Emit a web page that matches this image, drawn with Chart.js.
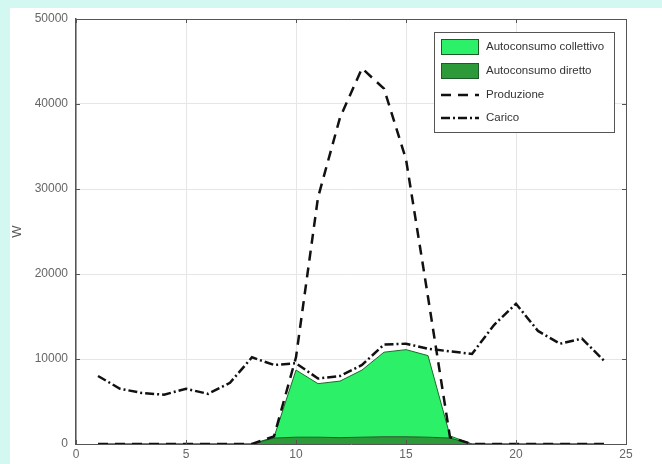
<!DOCTYPE html>
<html>
<head>
<meta charset="utf-8">
<script src="https://cdn.jsdelivr.net/npm/chart.js@4/dist/chart.umd.min.js"></script>
<style>
  html, body { margin: 0; padding: 0; }
  body { width: 662px; height: 464px; background: #d3f8f2; position: relative; overflow: hidden; }
  #c { position: absolute; left: 10px; top: 8px; background: #ffffff; }
</style>
</head>
<body>
<canvas id="c" width="652" height="456"></canvas>
<script>
// Hours of the day
const ore = [1, 2, 3, 4, 5, 6, 7, 8, 9, 10, 11, 12, 13, 14, 15, 16, 17, 18, 19, 20, 21, 22, 23, 24];

// Power profiles in W
const autoconsumoDiretto    = [0, 0, 0, 0, 0, 0, 0, 0, 700, 800, 800, 750, 800, 850, 850, 800, 700, 0, 0, 0, 0, 0, 0, 0];
const autoconsumoCollettivo = [0, 0, 0, 0, 0, 0, 0, 0, 100, 7900, 6300, 6650, 7900, 9950, 10250, 9600, 250, 0, 0, 0, 0, 0, 0, 0];
const produzione            = [0, 0, 0, 0, 0, 0, 0, 0, 900, 10200, 29000, 38400, 44200, 41800, 33500, 17300, 800, 0, 0, 0, 0, 0, 0, 0];
const carico                = [8000, 6500, 6000, 5800, 6500, 5900, 7200, 10200, 9300, 9500, 7700, 8000, 9300, 11700, 11800, 11200, 10900, 10600, 14000, 16500, 13300, 11800, 12400, 9800];

// Axis ticks
const xTicks = [0, 5, 10, 15, 20, 25];
const yTicks = [0, 10000, 20000, 30000, 40000, 50000];

const pts = arr => arr.map((v, i) => ({ x: ore[i], y: v }));

const FONT = "'Liberation Sans', Arial, sans-serif";

// Inner tick marks and the closing top/right frame
const frame = {
  id: 'frame',
  afterDraw(chart) {
    const { ctx, chartArea: a, scales: { x, y } } = chart;
    ctx.save();
    ctx.strokeStyle = '#555';
    ctx.lineWidth = 1;
    ctx.beginPath();
    ctx.moveTo(a.left, a.top + 0.5);
    ctx.lineTo(a.right + 0.5, a.top + 0.5);
    ctx.lineTo(a.right + 0.5, a.bottom);
    ctx.stroke();
    ctx.beginPath();
    xTicks.forEach(v => {
      const px = Math.round(x.getPixelForValue(v)) + 0.5;
      ctx.moveTo(px, a.bottom); ctx.lineTo(px, a.bottom - 4);
      ctx.moveTo(px, a.top); ctx.lineTo(px, a.top + 4);
    });
    yTicks.forEach(v => {
      const py = Math.round(y.getPixelForValue(v)) + 0.5;
      ctx.moveTo(a.left, py); ctx.lineTo(a.left + 4, py);
      ctx.moveTo(a.right, py); ctx.lineTo(a.right - 4, py);
    });
    ctx.stroke();
    ctx.restore();
  }
};

// Boxed legend inside the plot area
const boxLegend = {
  id: 'boxLegend',
  afterDraw(chart) {
    const { ctx } = chart;
    const ds = chart.data.datasets;
    const bx = 424, by = 24, bw = 180, bh = 100;
    ctx.save();
    ctx.fillStyle = '#ffffff';
    ctx.fillRect(bx, by, bw, bh);
    ctx.strokeStyle = '#555';
    ctx.lineWidth = 1;
    ctx.strokeRect(bx + 0.5, by + 0.5, bw, bh);
    const order = [1, 0, 2, 3];
    const rows = [39, 63, 87, 110];
    order.forEach((di, k) => {
      const d = ds[di];
      const cy = rows[k];
      if (d.fill) {
        ctx.fillStyle = d.backgroundColor;
        ctx.fillRect(431, cy - 8, 38, 16);
        ctx.strokeStyle = '#1e5a26';
        ctx.lineWidth = 1;
        ctx.strokeRect(431.5, cy - 7.5, 37, 15);
      } else {
        ctx.strokeStyle = d.borderColor;
        ctx.lineWidth = d.borderWidth;
        ctx.setLineDash(d.borderDash);
        ctx.beginPath();
        ctx.moveTo(431, cy); ctx.lineTo(469, cy);
        ctx.stroke();
        ctx.setLineDash([]);
      }
      ctx.fillStyle = '#333';
      ctx.font = '11.5px ' + FONT;
      ctx.textBaseline = 'middle';
      ctx.textAlign = 'left';
      ctx.fillText(d.label, 476, cy);
    });
    ctx.restore();
  }
};

new Chart(document.getElementById('c'), {
  type: 'line',
  data: {
    datasets: [
      {
        label: 'Autoconsumo diretto',
        data: pts(autoconsumoDiretto),
        stack: 'autoconsumo',
        fill: 'origin',
        backgroundColor: '#2c9a38',
        borderColor: '#1e5a26',
        borderWidth: 1,
        order: 2
      },
      {
        label: 'Autoconsumo collettivo',
        data: pts(autoconsumoCollettivo),
        stack: 'autoconsumo',
        fill: '-1',
        backgroundColor: '#2cf068',
        borderColor: '#1e6a2a',
        borderWidth: 1,
        order: 3
      },
      {
        label: 'Produzione',
        data: pts(produzione),
        stack: 'produzione',
        fill: false,
        borderColor: '#111',
        borderWidth: 2.5,
        borderDash: [10, 7],
        order: 1
      },
      {
        label: 'Carico',
        data: pts(carico),
        stack: 'carico',
        fill: false,
        borderColor: '#111',
        borderWidth: 2.5,
        borderDash: [9, 3, 2, 3],
        order: 0
      }
    ]
  },
  options: {
    responsive: false,
    animation: false,
    devicePixelRatio: 1,
    layout: { padding: { top: 11, right: 36, left: 0, bottom: 0 } },
    elements: { point: { radius: 0 }, line: { tension: 0 } },
    plugins: { legend: { display: false }, tooltip: { enabled: false } },
    scales: {
      x: {
        type: 'linear',
        min: 0, max: 25,
        afterBuildTicks: s => { s.ticks = xTicks.map(v => ({ value: v })); },
        ticks: { padding: 3, font: { family: FONT, size: 12 }, color: '#666', maxRotation: 0 },
        grid: { color: '#e6e6e6', drawTicks: false },
        border: { color: '#555', width: 1 },
        afterFit: s => { s.height = 20; }
      },
      y: {
        stacked: true,
        min: 0, max: 50000,
        afterBuildTicks: s => { s.ticks = yTicks.map(v => ({ value: v })); },
        ticks: { padding: 8, font: { family: FONT, size: 12, lineHeight: 0.4 }, color: '#666', callback: v => String(v) },
        grid: { color: '#e6e6e6', drawTicks: false },
        border: { color: '#555', width: 1.5 },
        title: { display: true, text: 'W', font: { family: FONT, size: 13 }, color: '#555', padding: 0 },
        afterFit: s => { s.width = 66; }
      }
    }
  },
  plugins: [frame, boxLegend]
});
</script>
</body>
</html>
